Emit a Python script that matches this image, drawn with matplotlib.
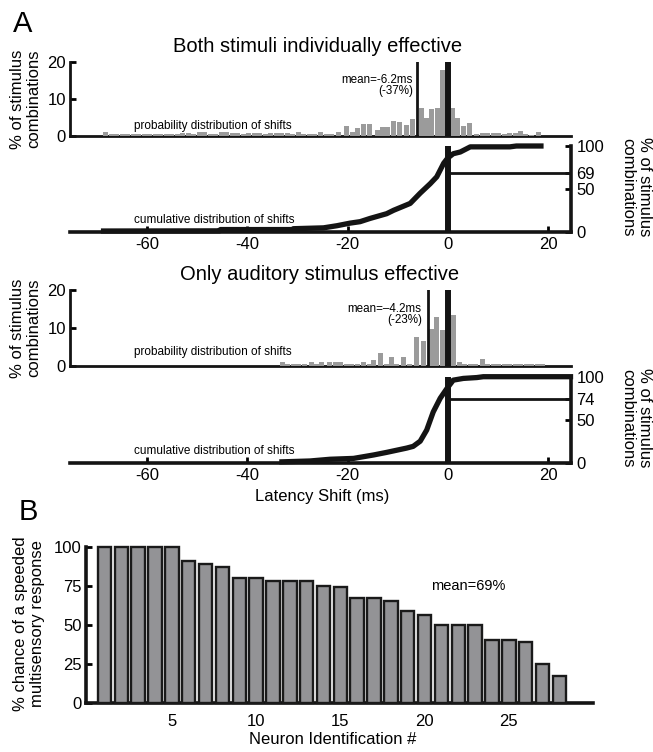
import matplotlib
matplotlib.use('Agg')
import matplotlib.pyplot as plt

plt.rcParams['font.family'] = ['Liberation Sans', 'DejaVu Sans']
plt.rcParams['axes.unicode_minus'] = False

# ---- data ----
# panel A, top: both stimuli individually effective
hist1_x = [-68.3, -67.2, -66.1, -65.0, -63.9, -62.8, -61.7, -60.6, -59.5, -58.4,
           -57.3, -56.2, -55.1, -54.0, -52.9, -51.8, -50.7, -49.6, -48.5, -47.4,
           -46.3, -45.2, -44.1, -43.0, -41.9, -40.8, -39.7, -38.6, -37.5, -36.4,
           -35.3, -34.2, -33.1, -32.0, -30.9, -29.8, -28.7, -27.6, -26.5, -25.4,
           -24.3, -23.2, -21.8, -20.3, -19.1, -18.0, -16.8, -15.6, -14.0, -13.0,
           -12.0, -10.8, -9.6, -8.2, -7.0, -5.3, -4.3, -3.2, -2.1, -1.1,
           1.0, 2.0, 3.1, 4.4, 5.7, 6.9, 8.0, 9.1, 10.2, 11.3,
           12.4, 13.5, 14.5, 15.6, 16.7, 18.2]
hist1_h = [1.0, 0.6, 0.6, 0.6, 0.6, 0.6, 0.6, 0.6, 0.6, 0.6,
           0.6, 0.6, 0.6, 0.6, 0.8, 0.8, 0.6, 1.1, 1.1, 0.6,
           0.6, 1.0, 1.0, 0.8, 0.8, 0.6, 0.8, 0.8, 0.8, 0.6,
           0.8, 0.8, 0.8, 0.8, 0.6, 1.1, 0.6, 0.6, 0.6, 1.1,
           0.5, 0.6, 1.1, 2.8, 1.2, 2.1, 3.2, 3.2, 1.6, 2.5,
           2.5, 4.0, 3.8, 2.9, 4.6, 7.7, 5.0, 7.3, 7.5, 17.8,
           7.7, 5.0, 2.7, 3.6, 0.6, 0.9, 0.9, 0.9, 0.9, 0.6,
           0.9, 0.9, 1.4, 0.6, 0.4, 1.1]
mean1 = -6.1
cum1_x = [-68.7, -45.5, -45.4, -31.0, -30.8, -24.8, -22.1, -19.5, -17.5, -15.5,
          -12.2, -10.8, -7.5, -5.5, -3.5, -2.2, -0.8, 0.0, 1.1, 2.5,
          4.5, 12.4, 13.7, 18.6]
cum1_y = [0.8, 1.0, 2.5, 2.5, 3.5, 4.5, 7.0, 10.0, 11.7, 15.5,
          21.0, 25.0, 33.0, 45.0, 56.0, 64.0, 80.0, 86.0, 91.0, 93.0,
          99.0, 99.0, 100.0, 100.0]
frac1 = 69

# panel A, bottom: only auditory stimulus effective
hist2_x = [-33.0, -31.9, -30.8, -29.7, -28.6, -27.2, -26.1, -25.2, -23.6, -22.5,
           -21.4, -20.3, -19.2, -18.1, -16.8, -15.7, -14.8, -13.4, -12.3, -11.3,
           -10.2, -8.9, -7.7, -6.2, -4.85, -3.2, -2.15, -1.1, 1.1, 2.3,
           3.4, 4.5, 5.6, 6.9, 8.0, 9.1, 10.2, 11.3, 12.4, 13.5,
           14.6, 15.7, 16.8, 17.9, 19.0]
hist2_h = [1.1, 0.6, 0.6, 0.6, 0.6, 1.1, 0.6, 1.1, 1.1, 1.1,
           1.1, 0.6, 0.6, 0.6, 1.1, 0.6, 1.8, 3.5, 0.6, 2.6,
           0.6, 2.6, 0.6, 7.7, 6.6, 9.9, 13.0, 9.6, 13.5, 1.1,
           0.6, 0.7, 0.6, 2.0, 0.6, 0.6, 0.6, 0.6, 0.6, 0.6,
           0.6, 0.6, 0.6, 0.6, 0.6]
mean2 = -4.0
cum2_x = [-33.1, -27.5, -23.5, -18.8, -14.8, -12.2, -8.2, -6.9, -5.5, -4.2,
          -2.9, -1.5, -0.2, 1.1, 3.1, 5.8, 7.1, 24.5]
cum2_y = [1, 2, 4, 5, 9, 12, 17, 19, 25, 38,
          59, 75, 86, 96, 98, 99, 100, 100]
frac2 = 74

# panel B
neuron_id = list(range(1, 29))
speeded_pct = [100, 100, 100, 100, 100, 91, 89, 87, 80, 80,
               78, 78, 78, 75, 74, 67, 67, 65, 59, 56,
               50, 50, 50, 40, 40, 39, 25, 17]

# ---- layout (pixel boxes) ----
W, H = 653, 752
fig = plt.figure(figsize=(W / 100, H / 100), dpi=100)


def box(x0, y0, x1, y1):
    return [x0 / W, 1 - y1 / H, (x1 - x0) / W, (y1 - y0) / H]


XL = (-75.4, 24.6)
BLACK = '#141414'
GRAY = '#9b9b9b'


def hist_panel(rect, xs, hs, mean, txt, txt_x, lbl_y):
    ax = fig.add_axes(rect)
    ax.bar(xs, hs, width=1.0, color=GRAY, linewidth=0, zorder=3)
    ax.axvline(0, color=BLACK, lw=4.3, zorder=4)
    ax.axvline(mean, color=BLACK, lw=2, zorder=4)
    ax.set_xlim(XL)
    ax.set_ylim(0, 20)
    for s in ['top', 'right']:
        ax.spines[s].set_visible(False)
    for s in ['left', 'bottom']:
        ax.spines[s].set_linewidth(2.0)
        ax.spines[s].set_color(BLACK)
    ax.set_yticks([0, 10, 20])
    ax.tick_params(axis='y', direction='in', length=4, width=2, labelsize=12, pad=3)
    ax.set_xticks([])
    ax.patch.set_visible(False)
    ax.text(txt_x, 13.6, txt, ha='right', va='center', multialignment='right',
            fontsize=8.4, linespacing=0.95)
    ax.text(-46.8, lbl_y, 'probability distribution of shifts', ha='center',
            va='center', fontsize=8.5)
    return ax


def cum_panel(rect, cx, cy, frac):
    ax = fig.add_axes(rect)
    ax.plot(cx, cy, color=BLACK, lw=3.8, solid_joinstyle='round', zorder=3, clip_on=False)
    ax.axvline(0, color=BLACK, lw=4.3, zorder=4)
    ax.hlines(frac, 0, XL[1], color=BLACK, lw=2, zorder=4)
    ax.set_xlim(XL)
    ax.set_ylim(0, 100)
    for s in ['top', 'left']:
        ax.spines[s].set_visible(False)
    for s in ['right', 'bottom']:
        ax.spines[s].set_linewidth(2.6)
        ax.spines[s].set_color(BLACK)
    ax.yaxis.tick_right()
    ax.set_yticks([0, 50, frac, 100])
    ax.set_xticks([-60, -40, -20, 0, 20])
    ax.tick_params(direction='in', length=4, width=2, labelsize=12, pad=4)
    ax.patch.set_visible(False)
    ax.text(-46.7, 13.6, 'cumulative distribution of shifts', ha='center',
            va='center', fontsize=8.5)
    return ax


hist_panel(box(70, 62, 571, 136), hist1_x, hist1_h, mean1,
           'mean=-6.2ms\n(-37%)', -7.0, 2.6)
cum_panel(box(70, 146, 571, 231.7), cum1_x, cum1_y, frac1)
hist_panel(box(70, 290, 571, 366.5), hist2_x, hist2_h, mean2,
           'mean=\u20134.2ms\n(-23%)', -5.2, 3.9)
cum_panel(box(70, 376.7, 571, 462.7), cum2_x, cum2_y, frac2)

axb = fig.add_axes(box(86, 546.7, 593, 702.7))
axb.bar(neuron_id, speeded_pct, width=0.8, color='#939396', edgecolor='#1a1a1a',
        linewidth=1.7, clip_on=False, zorder=3)
axb.set_xlim(-0.1, 30)
axb.set_ylim(0, 100)
for s in ['top', 'right']:
    axb.spines[s].set_visible(False)
for s in ['left', 'bottom']:
    axb.spines[s].set_linewidth(2.6)
    axb.spines[s].set_color(BLACK)
axb.set_xticks([5, 10, 15, 20, 25])
axb.set_yticks([0, 25, 50, 75, 100])
axb.tick_params(axis='x', length=0, labelsize=12, pad=8)
axb.tick_params(axis='y', direction='in', length=4, width=2, labelsize=12, pad=3)
axb.patch.set_visible(False)
axb.text(22.6, 75, 'mean=69%', ha='center', va='center', fontsize=10.5)


def px(x, y):
    return x / W, 1 - y / H


# text in figure pixel positions
fig.text(*px(23, 24), 'A', fontsize=21, ha='center', va='center')
fig.text(*px(28, 512), 'B', fontsize=21, ha='center', va='center')
fig.text(*px(318, 46), 'Both stimuli individually effective', fontsize=14.5,
         ha='center', va='center')
fig.text(*px(320, 275), 'Only auditory stimulus effective', fontsize=14.5,
         ha='center', va='center')
fig.text(*px(322, 497), 'Latency Shift (ms)', fontsize=12, ha='center', va='center')
fig.text(*px(333, 740), 'Neuron Identification #', fontsize=12, ha='center', va='center')

ylab = '% of stimulus\ncombinations'
fig.text(*px(26, 99), ylab, rotation=90, fontsize=12, ha='center', va='center', linespacing=1.1)
fig.text(*px(26, 328), ylab, rotation=90, fontsize=12, ha='center', va='center', linespacing=1.1)
fig.text(*px(636, 187), ylab, rotation=270, fontsize=12, ha='center', va='center', linespacing=1.1)
fig.text(*px(636, 418), ylab, rotation=270, fontsize=12, ha='center', va='center', linespacing=1.1)
fig.text(*px(29, 624), '% chance of a speeded\nmultisensory response', rotation=90,
         fontsize=12, ha='center', va='center', linespacing=1.15)

fig.savefig('out.png', dpi=100)
